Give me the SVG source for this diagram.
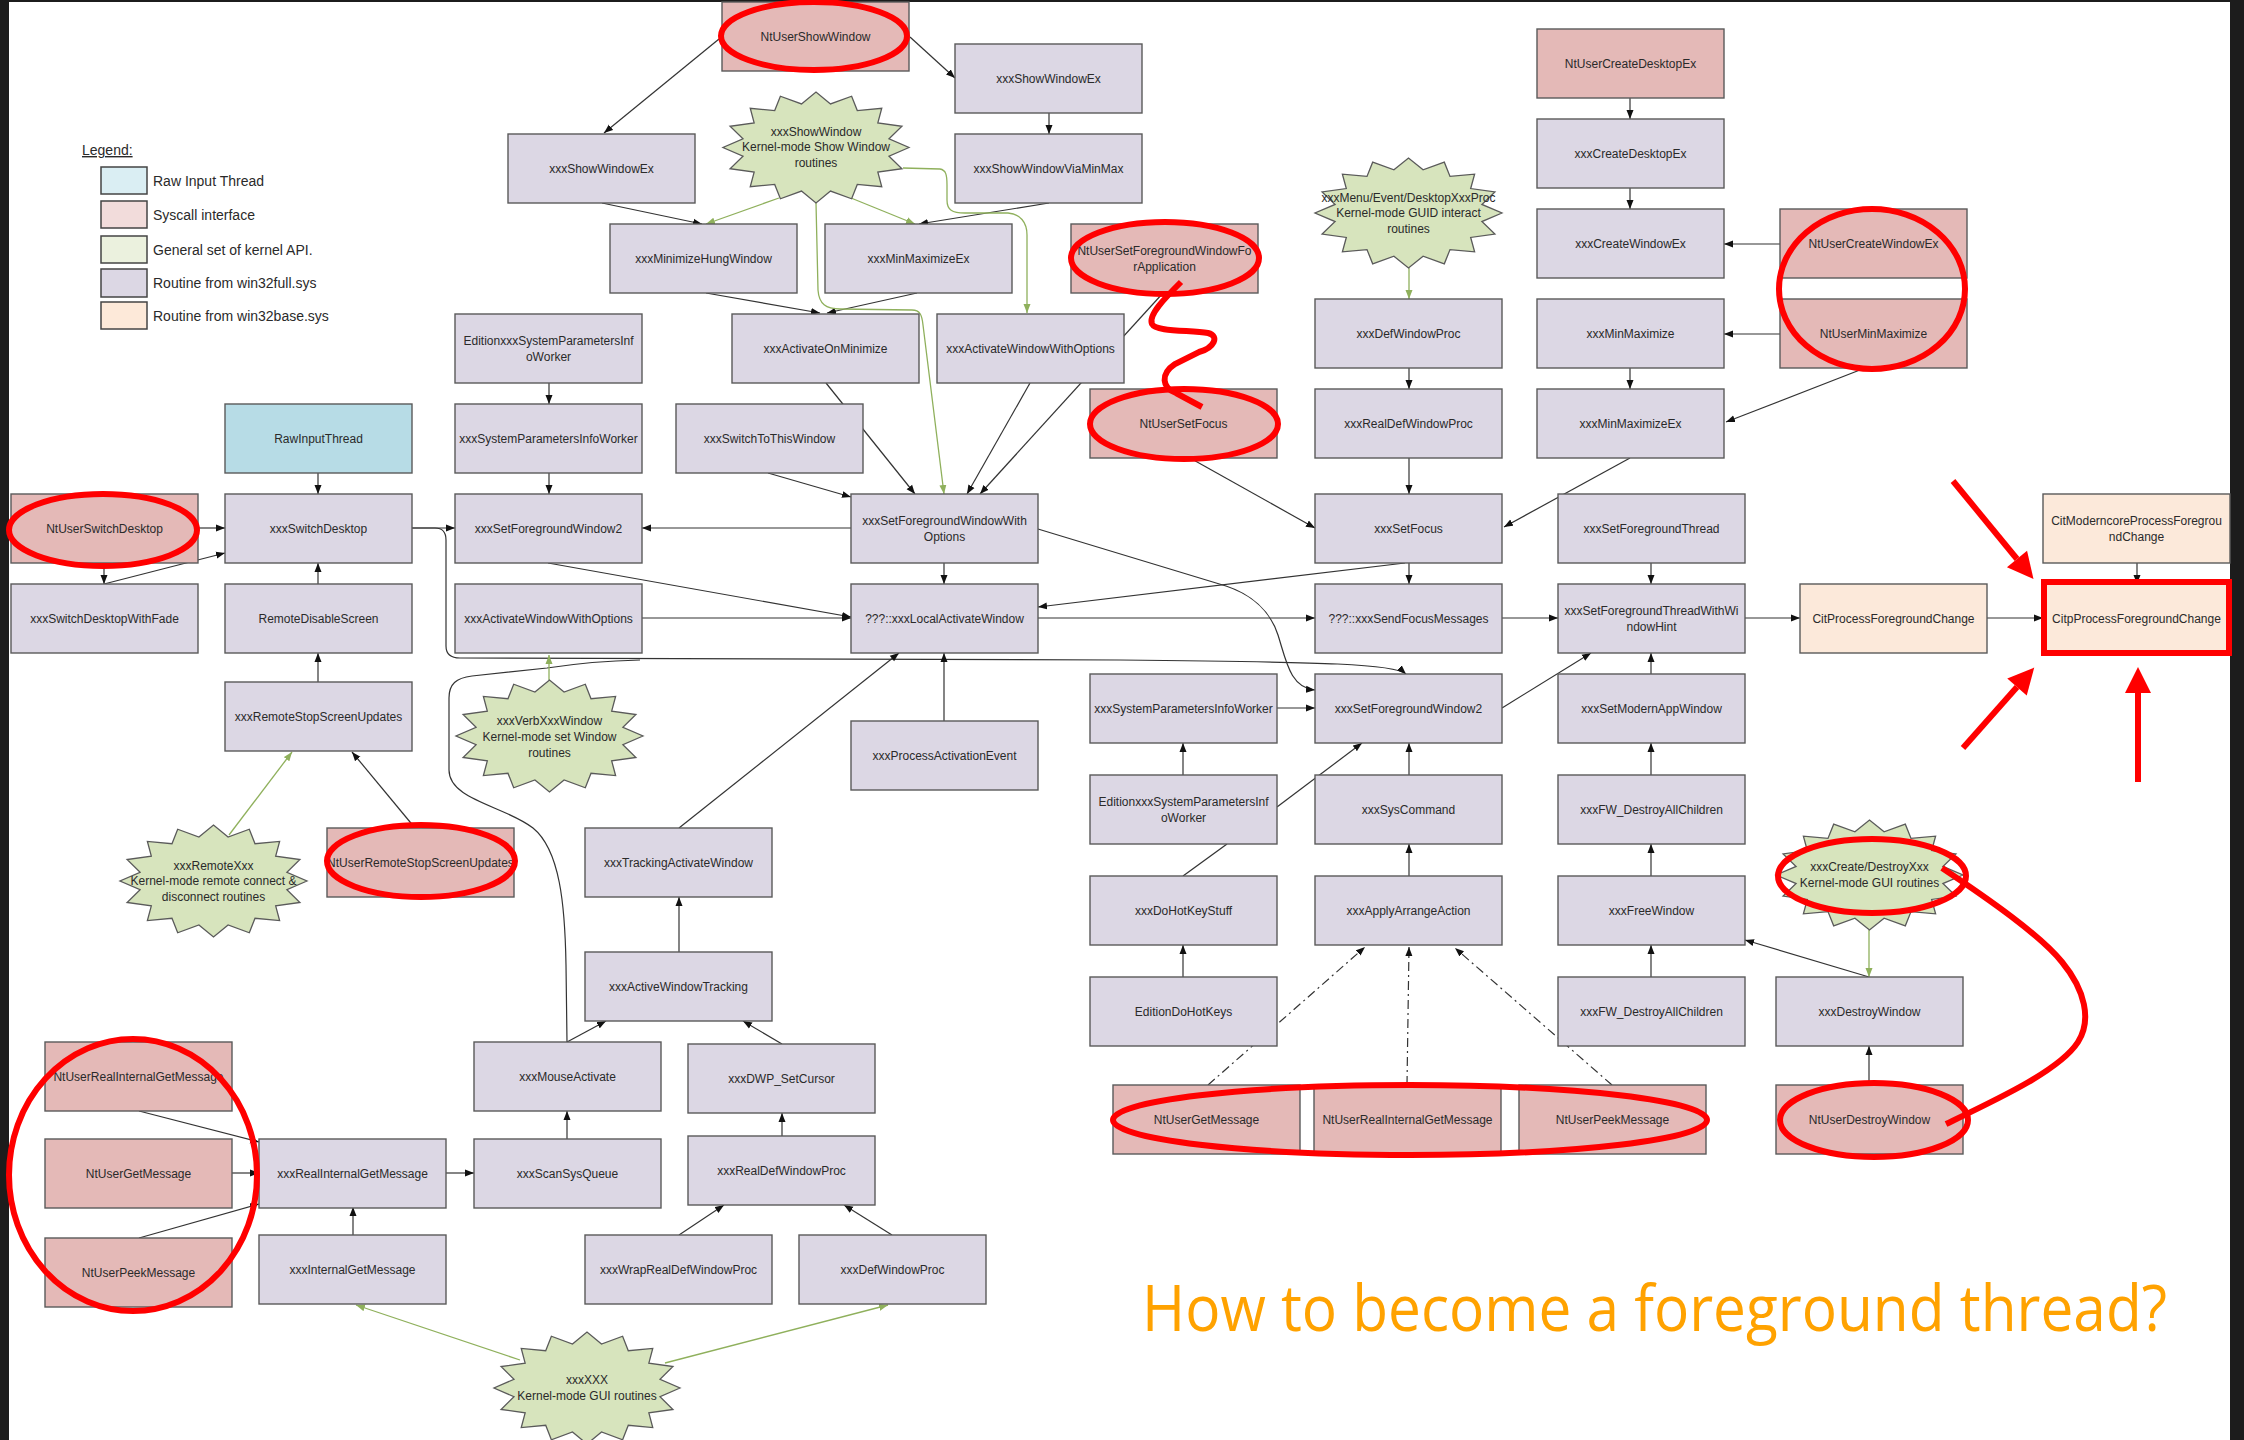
<svg xmlns="http://www.w3.org/2000/svg" width="2244" height="1440" viewBox="0 0 2244 1440">
<style>
.node rect{stroke:#5a5a5a;stroke-width:1.4}
.p{fill:#dcd7e4}
.r{fill:#e4b9b7}
.b{fill:#b7dce6}
.o{fill:#fce9da}
.burst{fill:#d7e4bd;stroke:#5a5a5a;stroke-width:1.3}
text{font-family:"Liberation Sans",Arial,sans-serif;font-size:12px;fill:#2a2a2a;text-anchor:middle}
.edge{fill:none;stroke:#333;stroke-width:1.2;marker-end:url(#ah)}
.plain{fill:none;stroke:#333;stroke-width:1.2}
.gr{fill:none;stroke:#8fb05c;stroke-width:1.3;marker-end:url(#ahg)}
.dash{fill:none;stroke:#333;stroke-width:1.2;stroke-dasharray:9 4 2 4;marker-end:url(#ah)}
.red{fill:none;stroke:#ff0000;stroke-width:6}
.redarrow{fill:none;stroke:#ff0000;stroke-width:6;marker-end:url(#ahr)}
.legend text{font-size:14px;text-anchor:start}
.legend rect{stroke:#444;stroke-width:1.5}
</style>
<defs>
<marker id="ah" markerUnits="userSpaceOnUse" markerWidth="10" markerHeight="8" refX="9" refY="4" orient="auto"><path d="M0,0.5 L9,4 L0,7.5z" fill="#111"/></marker>
<marker id="ahg" markerUnits="userSpaceOnUse" markerWidth="10" markerHeight="8" refX="9" refY="4" orient="auto"><path d="M0,0.5 L9,4 L0,7.5z" fill="#8fb05c"/></marker>
<marker id="ahr" markerUnits="userSpaceOnUse" markerWidth="28" markerHeight="26" refX="0" refY="13" orient="auto" overflow="visible"><path d="M0,0 L26,13 L0,26z" fill="#ff0000"/></marker>
<symbol id="star" viewBox="-1 -1 2 2" preserveAspectRatio="none" overflow="visible">
<polygon vector-effect="non-scaling-stroke" points="1,0 0.785,0.156 0.924,0.383 0.665,0.444 0.707,0.707 0.444,0.665 0.383,0.924 0.156,0.785 0,1 -0.156,0.785 -0.383,0.924 -0.444,0.665 -0.707,0.707 -0.665,0.444 -0.924,0.383 -0.785,0.156 -1,0 -0.785,-0.156 -0.924,-0.383 -0.665,-0.444 -0.707,-0.707 -0.444,-0.665 -0.383,-0.924 -0.156,-0.785 0,-1 0.156,-0.785 0.383,-0.924 0.444,-0.665 0.707,-0.707 0.665,-0.444 0.924,-0.383 0.785,-0.156"/>
</symbol>
</defs>

<!-- page -->
<rect x="0" y="0" width="2244" height="1440" fill="#ffffff"/>
<rect x="0" y="0" width="9" height="1440" fill="#1c1c1c"/>
<rect x="2230" y="0" width="14" height="1440" fill="#1c1c1c"/>
<rect x="0" y="0" width="2244" height="2" fill="#1c1c1c"/>

<!-- legend -->
<g id="legend" class="legend">
<text x="82" y="155" text-decoration="underline">Legend:</text>
<rect x="101" y="167" width="46" height="27" fill="#daeef3"/><text x="153" y="186">Raw Input Thread</text>
<rect x="101" y="201" width="46" height="27" fill="#f2dcdb"/><text x="153" y="220">Syscall interface</text>
<rect x="101" y="236" width="46" height="27" fill="#ebf1de"/><text x="153" y="255">General set of kernel API.</text>
<rect x="101" y="269" width="46" height="28" fill="#dcd7e4"/><text x="153" y="288">Routine from win32full.sys</text>
<rect x="101" y="302" width="46" height="27" fill="#fde9d9"/><text x="153" y="321">Routine from win32base.sys</text>
</g>

<!-- connectors -->
<g id="connectors">
<path class="edge" d="M719,39 L604,133"/>
<path class="edge" d="M910,37 L955,78"/>
<path class="edge" d="M1049,113 L1049,134"/>
<path class="edge" d="M602,203 L702,224"/>
<path class="edge" d="M1049,203 L919,224"/>
<path class="edge" d="M706,293 L820,313"/>
<path class="edge" d="M917,293 L827,313"/>
<path class="edge" d="M826,383 L915,494"/>
<path class="edge" d="M768,473 L851,497"/>
<path class="edge" d="M1030,383 L967,494"/>
<path class="edge" d="M1163,293 L980,494"/>
<path class="edge" d="M851,528 L642,528"/>
<path class="edge" d="M549,383 L549,404"/>
<path class="edge" d="M549,473 L549,494"/>
<path class="edge" d="M412,528 L455,528"/>
<path class="edge" d="M412,528 L435,528 Q446,528 446,540 L446,646 Q446,658 460,658 L1120,660 C1330,662 1395,664 1406,674"/>
<path class="plain" d="M567,1042 L566,965 C565,905 560,850 533,828 C505,806 449,800 449,770 L449,698 C449,684 456,678 472,676 L547,668 C560,666 600,661 640,660"/>
<path class="edge" d="M548,563 L851,617"/>
<path class="edge" d="M642,618 L851,618"/>
<path class="edge" d="M944,563 L944,584"/>
<path class="edge" d="M944,721 L944,653"/>
<path class="edge" d="M679,828 L899,653"/>
<path class="edge" d="M1038,618 L1315,618"/>
<path class="edge" d="M1405,563 L1038,607"/>
<path class="edge" d="M1038,529 L1226,586 C1250,594 1270,610 1278,635 C1286,660 1290,688 1315,690"/>
<path class="edge" d="M1190,458 L1315,528"/>
<path class="edge" d="M1409,458 L1409,494"/>
<path class="edge" d="M1409,368 L1409,389"/>
<path class="edge" d="M1630,458 L1504,527"/>
<path class="edge" d="M1409,563 L1409,584"/>
<path class="edge" d="M1502,618 L1558,618"/>
<path class="edge" d="M1651,563 L1651,584"/>
<path class="edge" d="M1502,708 L1591,653"/>
<path class="edge" d="M1651,674 L1651,653"/>
<path class="edge" d="M1651,775 L1651,743"/>
<path class="edge" d="M1651,876 L1651,844"/>
<path class="edge" d="M1651,977 L1651,945"/>
<path class="edge" d="M1869,977 L1745,940"/>
<path class="edge" d="M1869,1085 L1869,1046"/>
<path class="edge" d="M1745,618 L1800,618"/>
<path class="edge" d="M1987,618 L2043,618"/>
<path class="edge" d="M2137,563 L2137,584"/>
<path class="edge" d="M1277,708 L1315,708"/>
<path class="edge" d="M1183,775 L1183,743"/>
<path class="edge" d="M1277,807 L1362,743"/>
<path class="edge" d="M1409,775 L1409,743"/>
<path class="edge" d="M1409,876 L1409,844"/>
<path class="plain" d="M1183,876 L1227,844"/>
<path class="edge" d="M1183,977 L1183,945"/>
<path class="dash" d="M1208,1085 L1365,947"/>
<path class="dash" d="M1407,1085 L1409,947"/>
<path class="dash" d="M1612,1085 L1455,948"/>
<path class="edge" d="M1780,244 L1724,244"/>
<path class="edge" d="M1780,334 L1724,334"/>
<path class="edge" d="M1865,368 L1726,422"/>
<path class="edge" d="M1630,98 L1630,119"/>
<path class="edge" d="M1630,188 L1630,209"/>
<path class="edge" d="M1630,368 L1630,389"/>
<path class="edge" d="M198,528 L225,528"/>
<path class="edge" d="M104,563 L104,584"/>
<path class="edge" d="M104,584 L225,553"/>
<path class="edge" d="M318,584 L318,563"/>
<path class="edge" d="M318,682 L318,653"/>
<path class="edge" d="M415,828 L352,752"/>
<path class="edge" d="M318,473 L318,494"/>
<path class="edge" d="M567,1042 L606,1021"/>
<path class="edge" d="M782,1044 L743,1021"/>
<path class="edge" d="M679,952 L679,897"/>
<path class="edge" d="M782,1136 L782,1113"/>
<path class="edge" d="M679,1235 L724,1205"/>
<path class="edge" d="M892,1235 L844,1205"/>
<path class="edge" d="M567,1139 L567,1111"/>
<path class="edge" d="M446,1173 L474,1173"/>
<path class="edge" d="M353,1235 L353,1207"/>
<path class="edge" d="M139,1111 L259,1142"/>
<path class="edge" d="M231,1173 L259,1173"/>
<path class="edge" d="M139,1238 L259,1204"/>
<path class="gr" d="M779,198 L706,224"/>
<path class="gr" d="M851,198 L915,224"/>
<path class="gr" d="M903,168 L940,169 C946,170 947,175 947,185 L947,200 C947,210 952,213 965,213 L1008,213 C1020,214 1027,222 1027,235 L1027,313"/>
<path class="gr" d="M816,203 L818,290 C819,304 826,309 840,309 L912,310 C920,310 922,315 923,325 L944,494"/>
<path class="gr" d="M1409,268 L1409,299"/>
<path class="gr" d="M549,680 L549,655"/>
<path class="gr" d="M229,835 L292,752"/>
<path class="gr" d="M520,1360 L356,1305"/>
<path class="gr" d="M665,1363 L888,1305"/>
<path class="gr" d="M1869,930 L1869,977"/>
</g>

<!-- kernel API groups -->
<g id="b_showwindow"><use href="#star" class="burst" x="723" y="92" width="186" height="111"/><text x="816" y="136">xxxShowWindow</text><text x="816" y="151">Kernel-mode Show Window</text><text x="816" y="167">routines</text></g>
<g id="b_menu"><use href="#star" class="burst" x="1315" y="158" width="187" height="110"/><text x="1408.5" y="202">xxxMenu/Event/DesktopXxxProc</text><text x="1408.5" y="217">Kernel-mode GUID interact</text><text x="1408.5" y="233">routines</text></g>
<g id="b_verb"><use href="#star" class="burst" x="456" y="680" width="187" height="112"/><text x="549.5" y="725">xxxVerbXxxWindow</text><text x="549.5" y="741">Kernel-mode set Window</text><text x="549.5" y="757">routines</text></g>
<g id="b_remote"><use href="#star" class="burst" x="120" y="825" width="187" height="112"/><text x="213.5" y="870">xxxRemoteXxx</text><text x="213.5" y="885">Kernel-mode remote connect &amp;</text><text x="213.5" y="901">disconnect routines</text></g>
<g id="b_xxx"><use href="#star" class="burst" x="494" y="1332" width="186" height="112"/><text x="587" y="1384">xxxXXX</text><text x="587" y="1400">Kernel-mode GUI routines</text></g>
<g id="b_createdestroy"><use href="#star" class="burst" x="1776" y="820" width="187" height="110"/><text x="1869.5" y="871">xxxCreate/DestroyXxx</text><text x="1869.5" y="887">Kernel-mode GUI routines</text></g>

<!-- routines -->
<g id="n1" class="node"><rect class="r" x="722" y="2" width="187" height="69"/><text x="815.5" y="40.5">NtUserShowWindow</text></g>
<g id="n2" class="node"><rect class="p" x="508" y="134" width="187" height="69"/><text x="601.5" y="172.5">xxxShowWindowEx</text></g>
<g id="n3" class="node"><rect class="p" x="955" y="44" width="187" height="69"/><text x="1048.5" y="82.5">xxxShowWindowEx</text></g>
<g id="n4" class="node"><rect class="p" x="955" y="134" width="187" height="69"/><text x="1048.5" y="172.5">xxxShowWindowViaMinMax</text></g>
<g id="n5" class="node"><rect class="p" x="610" y="224" width="187" height="69"/><text x="703.5" y="262.5">xxxMinimizeHungWindow</text></g>
<g id="n6" class="node"><rect class="p" x="825" y="224" width="187" height="69"/><text x="918.5" y="262.5">xxxMinMaximizeEx</text></g>
<g id="n7" class="node"><rect class="p" x="732" y="314" width="187" height="69"/><text x="825.5" y="352.5">xxxActivateOnMinimize</text></g>
<g id="n8" class="node"><rect class="p" x="937" y="314" width="187" height="69"/><text x="1030.5" y="352.5">xxxActivateWindowWithOptions</text></g>
<g id="n9" class="node"><rect class="r" x="1071" y="224" width="187" height="69"/><text x="1164.5" y="254.5">NtUserSetForegroundWindowFo</text><text x="1164.5" y="270.5">rApplication</text></g>
<g id="n10" class="node"><rect class="r" x="1090" y="389" width="187" height="69"/><text x="1183.5" y="427.5">NtUserSetFocus</text></g>
<g id="n11" class="node"><rect class="p" x="455" y="314" width="187" height="69"/><text x="548.5" y="344.5">EditionxxxSystemParametersInf</text><text x="548.5" y="360.5">oWorker</text></g>
<g id="n12" class="node"><rect class="p" x="455" y="404" width="187" height="69"/><text x="548.5" y="442.5">xxxSystemParametersInfoWorker</text></g>
<g id="n13" class="node"><rect class="b" x="225" y="404" width="187" height="69"/><text x="318.5" y="442.5">RawInputThread</text></g>
<g id="n14" class="node"><rect class="p" x="676" y="404" width="187" height="69"/><text x="769.5" y="442.5">xxxSwitchToThisWindow</text></g>
<g id="n15" class="node"><rect class="r" x="11" y="494" width="187" height="69"/><text x="104.5" y="532.5">NtUserSwitchDesktop</text></g>
<g id="n16" class="node"><rect class="p" x="225" y="494" width="187" height="69"/><text x="318.5" y="532.5">xxxSwitchDesktop</text></g>
<g id="n17" class="node"><rect class="p" x="455" y="494" width="187" height="69"/><text x="548.5" y="532.5">xxxSetForegroundWindow2</text></g>
<g id="n18" class="node"><rect class="p" x="851" y="494" width="187" height="69"/><text x="944.5" y="524.5">xxxSetForegroundWindowWith</text><text x="944.5" y="540.5">Options</text></g>
<g id="n19" class="node"><rect class="p" x="11" y="584" width="187" height="69"/><text x="104.5" y="622.5">xxxSwitchDesktopWithFade</text></g>
<g id="n20" class="node"><rect class="p" x="225" y="584" width="187" height="69"/><text x="318.5" y="622.5">RemoteDisableScreen</text></g>
<g id="n21" class="node"><rect class="p" x="455" y="584" width="187" height="69"/><text x="548.5" y="622.5">xxxActivateWindowWithOptions</text></g>
<g id="n22" class="node"><rect class="p" x="851" y="584" width="187" height="69"/><text x="944.5" y="622.5">???::xxxLocalActivateWindow</text></g>
<g id="n23" class="node"><rect class="p" x="225" y="682" width="187" height="69"/><text x="318.5" y="720.5">xxxRemoteStopScreenUpdates</text></g>
<g id="n24" class="node"><rect class="p" x="851" y="721" width="187" height="69"/><text x="944.5" y="759.5">xxxProcessActivationEvent</text></g>
<g id="n25" class="node"><rect class="r" x="327" y="828" width="187" height="69"/><text x="420.5" y="866.5">NtUserRemoteStopScreenUpdates</text></g>
<g id="n26" class="node"><rect class="p" x="585" y="828" width="187" height="69"/><text x="678.5" y="866.5">xxxTrackingActivateWindow</text></g>
<g id="n27" class="node"><rect class="p" x="585" y="952" width="187" height="69"/><text x="678.5" y="990.5">xxxActiveWindowTracking</text></g>
<g id="n28" class="node"><rect class="p" x="474" y="1042" width="187" height="69"/><text x="567.5" y="1080.5">xxxMouseActivate</text></g>
<g id="n29" class="node"><rect class="p" x="688" y="1044" width="187" height="69"/><text x="781.5" y="1082.5">xxxDWP_SetCursor</text></g>
<g id="n30" class="node"><rect class="p" x="474" y="1139" width="187" height="69"/><text x="567.5" y="1177.5">xxxScanSysQueue</text></g>
<g id="n31" class="node"><rect class="p" x="688" y="1136" width="187" height="69"/><text x="781.5" y="1174.5">xxxRealDefWindowProc</text></g>
<g id="n32" class="node"><rect class="p" x="585" y="1235" width="187" height="69"/><text x="678.5" y="1273.5">xxxWrapRealDefWindowProc</text></g>
<g id="n33" class="node"><rect class="p" x="799" y="1235" width="187" height="69"/><text x="892.5" y="1273.5">xxxDefWindowProc</text></g>
<g id="n34" class="node"><rect class="r" x="45" y="1042" width="187" height="69"/><text x="138.5" y="1080.5">NtUserRealInternalGetMessage</text></g>
<g id="n35" class="node"><rect class="r" x="45" y="1139" width="187" height="69"/><text x="138.5" y="1177.5">NtUserGetMessage</text></g>
<g id="n36" class="node"><rect class="r" x="45" y="1238" width="187" height="69"/><text x="138.5" y="1276.5">NtUserPeekMessage</text></g>
<g id="n37" class="node"><rect class="p" x="259" y="1139" width="187" height="69"/><text x="352.5" y="1177.5">xxxRealInternalGetMessage</text></g>
<g id="n38" class="node"><rect class="p" x="259" y="1235" width="187" height="69"/><text x="352.5" y="1273.5">xxxInternalGetMessage</text></g>
<g id="n39" class="node"><rect class="r" x="1537" y="29" width="187" height="69"/><text x="1630.5" y="67.5">NtUserCreateDesktopEx</text></g>
<g id="n40" class="node"><rect class="p" x="1537" y="119" width="187" height="69"/><text x="1630.5" y="157.5">xxxCreateDesktopEx</text></g>
<g id="n41" class="node"><rect class="p" x="1537" y="209" width="187" height="69"/><text x="1630.5" y="247.5">xxxCreateWindowEx</text></g>
<g id="n42" class="node"><rect class="p" x="1537" y="299" width="187" height="69"/><text x="1630.5" y="337.5">xxxMinMaximize</text></g>
<g id="n43" class="node"><rect class="p" x="1537" y="389" width="187" height="69"/><text x="1630.5" y="427.5">xxxMinMaximizeEx</text></g>
<g id="n44" class="node"><rect class="r" x="1780" y="209" width="187" height="69"/><text x="1873.5" y="247.5">NtUserCreateWindowEx</text></g>
<g id="n45" class="node"><rect class="r" x="1780" y="299" width="187" height="69"/><text x="1873.5" y="337.5">NtUserMinMaximize</text></g>
<g id="n46" class="node"><rect class="p" x="1315" y="299" width="187" height="69"/><text x="1408.5" y="337.5">xxxDefWindowProc</text></g>
<g id="n47" class="node"><rect class="p" x="1315" y="389" width="187" height="69"/><text x="1408.5" y="427.5">xxxRealDefWindowProc</text></g>
<g id="n48" class="node"><rect class="p" x="1315" y="494" width="187" height="69"/><text x="1408.5" y="532.5">xxxSetFocus</text></g>
<g id="n49" class="node"><rect class="p" x="1315" y="584" width="187" height="69"/><text x="1408.5" y="622.5">???::xxxSendFocusMessages</text></g>
<g id="n50" class="node"><rect class="p" x="1315" y="674" width="187" height="69"/><text x="1408.5" y="712.5">xxxSetForegroundWindow2</text></g>
<g id="n51" class="node"><rect class="p" x="1315" y="775" width="187" height="69"/><text x="1408.5" y="813.5">xxxSysCommand</text></g>
<g id="n52" class="node"><rect class="p" x="1315" y="876" width="187" height="69"/><text x="1408.5" y="914.5">xxxApplyArrangeAction</text></g>
<g id="n53" class="node"><rect class="p" x="1090" y="674" width="187" height="69"/><text x="1183.5" y="712.5">xxxSystemParametersInfoWorker</text></g>
<g id="n54" class="node"><rect class="p" x="1090" y="775" width="187" height="69"/><text x="1183.5" y="805.5">EditionxxxSystemParametersInf</text><text x="1183.5" y="821.5">oWorker</text></g>
<g id="n55" class="node"><rect class="p" x="1090" y="876" width="187" height="69"/><text x="1183.5" y="914.5">xxxDoHotKeyStuff</text></g>
<g id="n56" class="node"><rect class="p" x="1090" y="977" width="187" height="69"/><text x="1183.5" y="1015.5">EditionDoHotKeys</text></g>
<g id="n57" class="node"><rect class="p" x="1558" y="494" width="187" height="69"/><text x="1651.5" y="532.5">xxxSetForegroundThread</text></g>
<g id="n58" class="node"><rect class="p" x="1558" y="584" width="187" height="69"/><text x="1651.5" y="614.5">xxxSetForegroundThreadWithWi</text><text x="1651.5" y="630.5">ndowHint</text></g>
<g id="n59" class="node"><rect class="p" x="1558" y="674" width="187" height="69"/><text x="1651.5" y="712.5">xxxSetModernAppWindow</text></g>
<g id="n60" class="node"><rect class="p" x="1558" y="775" width="187" height="69"/><text x="1651.5" y="813.5">xxxFW_DestroyAllChildren</text></g>
<g id="n61" class="node"><rect class="p" x="1558" y="876" width="187" height="69"/><text x="1651.5" y="914.5">xxxFreeWindow</text></g>
<g id="n62" class="node"><rect class="p" x="1558" y="977" width="187" height="69"/><text x="1651.5" y="1015.5">xxxFW_DestroyAllChildren</text></g>
<g id="n63" class="node"><rect class="p" x="1776" y="977" width="187" height="69"/><text x="1869.5" y="1015.5">xxxDestroyWindow</text></g>
<g id="n64" class="node"><rect class="r" x="1776" y="1085" width="187" height="69"/><text x="1869.5" y="1123.5">NtUserDestroyWindow</text></g>
<g id="n65" class="node"><rect class="r" x="1113" y="1085" width="187" height="69"/><text x="1206.5" y="1123.5">NtUserGetMessage</text></g>
<g id="n66" class="node"><rect class="r" x="1314" y="1085" width="187" height="69"/><text x="1407.5" y="1123.5">NtUserRealInternalGetMessage</text></g>
<g id="n67" class="node"><rect class="r" x="1519" y="1085" width="187" height="69"/><text x="1612.5" y="1123.5">NtUserPeekMessage</text></g>
<g id="n68" class="node"><rect class="o" x="1800" y="584" width="187" height="69"/><text x="1893.5" y="622.5">CitProcessForegroundChange</text></g>
<g id="n69" class="node"><rect class="o" x="2043" y="584" width="187" height="69"/><text x="2136.5" y="622.5">CitpProcessForegroundChange</text></g>
<g id="n70" class="node"><rect class="o" x="2043" y="494" width="187" height="69"/><text x="2136.5" y="524.5">CitModerncoreProcessForegrou</text><text x="2136.5" y="540.5">ndChange</text></g>

<!-- hand-drawn highlights -->
<g id="highlights">
<ellipse class="red" cx="814" cy="36" rx="93" ry="34"/>
<ellipse class="red" cx="1165" cy="258" rx="94" ry="36"/>
<ellipse class="red" cx="1184" cy="424" rx="94" ry="35"/>
<path class="red" d="M1181,282 C1165,298 1148,315 1152,324 C1156,332 1190,330 1208,333 C1220,336 1214,348 1199,352 L1175,364 C1160,374 1162,388 1176,393 L1202,407"/>
<ellipse class="red" cx="1872" cy="289" rx="93" ry="80"/>
<ellipse class="red" cx="103" cy="530" rx="94" ry="36"/>
<ellipse class="red" cx="421" cy="861" rx="94" ry="36"/>
<ellipse class="red" cx="133" cy="1175" rx="124" ry="136"/>
<ellipse class="red" cx="1410" cy="1120" rx="297" ry="35"/>
<ellipse class="red" cx="1874" cy="1120" rx="94" ry="37"/>
<ellipse class="red" cx="1872" cy="876" rx="94" ry="37"/>
<path class="red" d="M1942,868 C1990,900 2040,935 2062,962 C2085,990 2092,1020 2078,1042 C2060,1070 2000,1098 1946,1124"/>
<rect class="red" x="2044" y="582" width="185" height="71"/>
<path class="redarrow" d="M1953,481 L2017,559"/>
<path class="redarrow" d="M1963,748 L2017,687"/>
<path class="redarrow" d="M2138,782 L2138,693"/>
</g>

<text x="1142" y="1331" style="font-family:'Open Sans','Liberation Sans',sans-serif;font-size:64px;font-weight:400;fill:#ffa200;text-anchor:start" textLength="1025" lengthAdjust="spacingAndGlyphs">How to become a foreground thread?</text>
</svg>
